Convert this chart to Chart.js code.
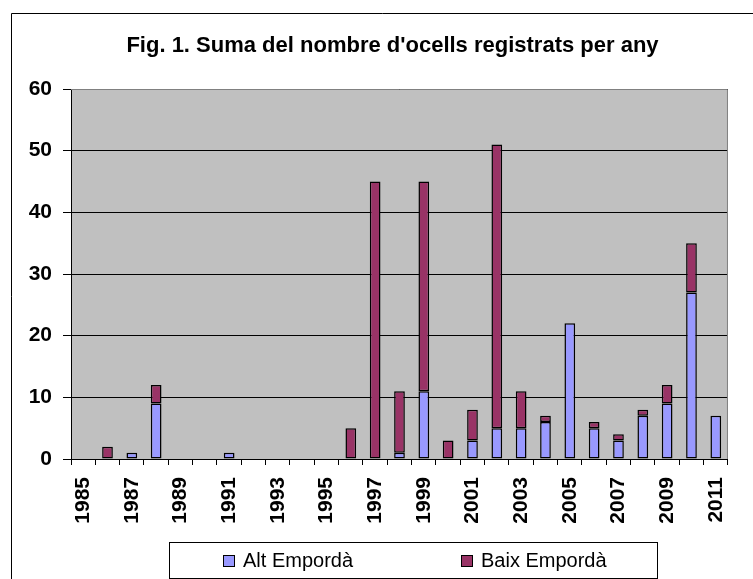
<!DOCTYPE html>
<html>
<head>
<meta charset="utf-8">
<script src="https://cdn.jsdelivr.net/npm/chart.js@4.4.1/dist/chart.umd.min.js"></script>
<style>
  body { margin: 0; background: #fff; }
  canvas { display: block; }
</style>
</head>
<body>
<canvas id="chart" width="753" height="579"></canvas>
<script>
const titleText = "Fig. 1. Suma del nombre d'ocells registrats per any";
const years = ['1985', '1986', '1987', '1988', '1989', '1990', '1991', '1992', '1993', '1994',
    '1995', '1996', '1997', '1998', '1999', '2000', '2001', '2002', '2003', '2004',
    '2005', '2006', '2007', '2008', '2009', '2010', '2011'];
const altEmporda = [0, 0, 1, 9, 0, 0, 1, 0, 0, 0, 0, 0, 0, 1, 11, 0, 3, 5, 5, 6, 22, 5, 3, 7, 9, 27, 7];
const baixEmporda = [0, 2, 0, 3, 0, 0, 0, 0, 0, 0, 0, 5, 45, 10, 34, 3, 5, 46, 6, 1, 0, 1, 1, 1, 3, 8, 0];
const yTicks = [0, 10, 20, 30, 40, 50, 60];

const FONT = '"Liberation Sans", Arial, sans-serif';

// background, frame, title and legend box like the Excel original
const excelLook = {
    id: 'excelLook',
    beforeDraw(chart) {
        const { ctx, chartArea: a } = chart;
        ctx.save();
        ctx.fillStyle = '#ffffff';
        ctx.fillRect(0, 0, chart.width, chart.height);
        ctx.fillStyle = '#c0c0c0';
        ctx.fillRect(a.left, a.top, a.right - a.left, a.bottom - a.top);

        ctx.strokeStyle = '#000';
        ctx.lineWidth = 1;
        ctx.beginPath();
        ctx.moveTo(11.5, chart.height);
        ctx.lineTo(11.5, 13.5);
        ctx.lineTo(chart.width, 13.5);
        ctx.stroke();

        ctx.fillStyle = '#000';
        ctx.font = 'bold 22px ' + FONT;
        ctx.textAlign = 'center';
        ctx.textBaseline = 'alphabetic';
        ctx.fillText(titleText, 392.5, 52);
        ctx.restore();
    },
    afterDraw(chart) {
        const { ctx, chartArea: a } = chart;
        ctx.save();
        ctx.strokeStyle = '#808080';
        ctx.lineWidth = 1;
        ctx.beginPath();
        ctx.moveTo(a.left, a.top + 0.5);
        ctx.lineTo(a.right - 0.5, a.top + 0.5);
        ctx.lineTo(a.right - 0.5, a.bottom);
        ctx.stroke();

        ctx.strokeStyle = '#000';
        ctx.strokeRect(169.5, 542.5, 488, 36);
        const itemX = [223, 461];
        ctx.font = '20px ' + FONT;
        ctx.textAlign = 'left';
        ctx.textBaseline = 'middle';
        chart.data.datasets.forEach((ds, i) => {
            ctx.fillStyle = ds.backgroundColor;
            ctx.fillRect(itemX[i], 555, 11, 11);
            ctx.strokeRect(itemX[i] + 0.5, 555.5, 11, 11);
            ctx.fillStyle = '#000';
            ctx.fillText(ds.label, itemX[i] + 20, 561);
        });
        ctx.restore();
    }
};

// zero years get no bar at all (no stray border line)
const noZero = arr => arr.map(v => (v === 0 ? null : v));

new Chart(document.getElementById('chart'), {
    type: 'bar',
    data: {
        labels: years,
        datasets: [{
            label: 'Alt Empordà',
            data: noZero(altEmporda),
            backgroundColor: '#9999ff',
            borderColor: '#000',
            borderWidth: 1.5,
            borderSkipped: false,
            barPercentage: 0.44,
            categoryPercentage: 1
        }, {
            label: 'Baix Empordà',
            data: noZero(baixEmporda),
            backgroundColor: '#993366',
            borderColor: '#000',
            borderWidth: 1.5,
            borderSkipped: false,
            barPercentage: 0.44,
            categoryPercentage: 1
        }]
    },
    options: {
        responsive: false,
        animation: false,
        devicePixelRatio: 1,
        layout: { padding: { top: 89, right: 0, bottom: 56, left: 0 } },
        plugins: {
            legend: { display: false },
            title: { display: false },
            tooltip: { enabled: false }
        },
        scales: {
            x: {
                stacked: true,
                offset: true,
                grid: { offset: true, drawOnChartArea: false, tickLength: 6, color: '#000' },
                border: { color: '#000' },
                ticks: {
                    autoSkip: false,
                    maxRotation: 90,
                    minRotation: 90,
                    padding: 12,
                    color: '#000',
                    font: { family: FONT, size: 21, weight: 'bold' },
                    callback: (v, i) => (i % 2 === 0 ? years[i] : '')
                },
                afterFit: s => { s.height = 64; }
            },
            y: {
                stacked: true,
                min: 0,
                max: 60,
                grid: { color: '#000', tickLength: 8 },
                border: { color: '#000' },
                afterBuildTicks: s => { s.ticks = yTicks.map(v => ({ value: v })); },
                ticks: {
                    padding: 11,
                    color: '#000',
                    font: { family: FONT, size: 21, weight: 'bold' }
                },
                afterFit: s => { s.width = 71; }
            }
        }
    },
    plugins: [excelLook]
});
</script>
</body>
</html>
